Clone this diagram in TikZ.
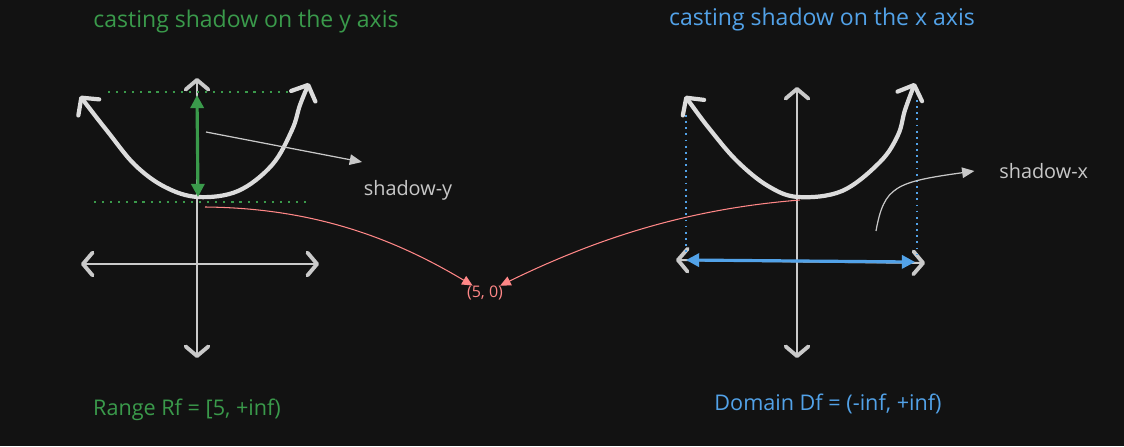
\documentclass[tikz,border=0pt]{standalone}
\usepackage{fontspec}
\setmainfont{Open Sans}
\usetikzlibrary{arrows.meta}
\definecolor{bgdark}{HTML}{121212}
\definecolor{chalk}{HTML}{DCDCDC}
\definecolor{shgreen}{HTML}{3A9A4B}
\definecolor{shblue}{HTML}{52A2E8}
\definecolor{shred}{HTML}{FF8787}
\definecolor{shgrey}{HTML}{C8C8C8}
\tikzset{
  axisline/.style ={chalk!92!black, line width=1.1pt,
                    {Straight Barb[length=5.5pt, width=13pt, line width=2.2pt, round]}-{Straight Barb[length=5.5pt, width=13pt, line width=2.2pt, round]}},
  parab/.style    ={chalk, line width=2.4pt, line cap=round, line join=round,
                    {Straight Barb[length=7pt, width=15pt, round]}-{Straight Barb[length=7pt, width=15pt, round]}},
  shade/.style    ={line width=1.1pt, dash pattern=on 1.2pt off 3.4pt},   % shadow guide
  span/.style     ={line width=1.8pt, {Triangle[length=7.5pt, width=7.5pt]}-{Triangle[length=7.5pt, width=7.5pt]}},
  hint/.style     ={shgrey, line width=0.7pt, -{Triangle[length=7pt, width=6pt]}},
  maps/.style     ={shred, line width=0.6pt, -{Triangle[length=6pt, width=5.5pt]}},  % point -> (5,0)
  capt/.style     ={font=\fontsize{13.1}{15}\selectfont, inner sep=0pt},
  capb/.style     ={font=\fontsize{12.3}{14}\selectfont, inner sep=0pt},
  lbl/.style      ={font=\fontsize{11.3}{13}\selectfont, text=shgrey, inner sep=0pt},
}

\begin{document}
\begin{tikzpicture}[x=0.02cm, y=-0.02cm]
  \useasboundingbox (0,0) rectangle (1124,446);
  \fill[bgdark] (0,0) rectangle (1124,446);

  % LEFT: shadow on the y axis
  \node[capt, text=shgreen] (ltitle) at (246,22) {casting shadow on the y axis};
  \coordinate (ltop) at (197,78);
  \coordinate (lbot) at (197,358);
  \coordinate (lleft) at (81,264);
  \coordinate (lright) at (319,264);
  \draw[axisline] (lleft) -- (lright);
  \draw[axisline] (lbot) -- (ltop);
  \draw[shgreen, shade] (108,92) -- (290,92);
  \draw[shgreen, shade] (94,202) -- (312,202);
  \draw[parab] plot[smooth, tension=0.6] coordinates
    {(80,96) (108,132) (135,165) (165,187) (198,197) (238,191) (272,165) (292,130) (300,105) (309,83)};
  \coordinate (lmax) at (197,95);
  \coordinate (lmin) at (198,197);
  \draw[shgreen, span] (lmax) -- (lmin);
  \coordinate (lhintA) at (206,132);
  \coordinate (lhintB) at (362,162);
  \draw[hint] (lhintA) -- (lhintB);
  \node[lbl] (shy) at (408,190) {shadow-y};
  \node[capb, text=shgreen] (range) at (187,410) {Range Rf = [5, +inf)};

  % the point both shadows meet
  \node[font=\fontsize{9.1}{11}\selectfont, text=shred, inner sep=0pt] (pt) at (485,293) {(5, 0)};
  \coordinate (lfoot) at (205,207);
  \draw[maps] (lfoot) .. controls (310,208) and (390,236) .. ([shift={(-30,-10)}]pt);

  % RIGHT: shadow on the x axis
  \node[capt, text=shblue] (rtitle) at (822,20) {casting shadow on the x axis};
  \coordinate (rtop) at (797,87);
  \coordinate (rbot) at (797,358);
  \coordinate (rleft) at (676,260);
  \coordinate (rright) at (925,263);
  \draw[axisline] (rbot) -- (rtop);
  \draw[axisline] (rleft) -- (rright);
  \draw[shblue, line width=0.8pt, dash pattern=on 1pt off 2.5pt] (686,115) -- (686,255);
  \draw[shblue, line width=0.8pt, dash pattern=on 1pt off 2.5pt] (917,100) -- (917,255);
  \draw[parab] plot[smooth, tension=0.6] coordinates
    {(685,96) (712,132) (738,162) (768,186) (798,197) (842,191) (880,162) (898,135) (905,110) (915,83)};
  \coordinate (rlo) at (686,260);
  \coordinate (rhi) at (915,262);
  \draw[shblue, span] (rlo) -- (rhi);
  \coordinate (rhintA) at (876,231);
  \node[lbl, anchor=west] (shx) at (999,171) {shadow-x};
  \draw[hint] (rhintA) .. controls (884,186) and (896,182) .. ([xshift=-14]shx.west);
  \node[capb, text=shblue] (domain) at (828,404) {Domain Df = (-inf, +inf)};
  \coordinate (rfoot) at (800,200);
  \draw[maps] (rfoot) .. controls (700,208) and (610,232) .. ([shift={(30,-3)}]pt);
\end{tikzpicture}
\end{document}
